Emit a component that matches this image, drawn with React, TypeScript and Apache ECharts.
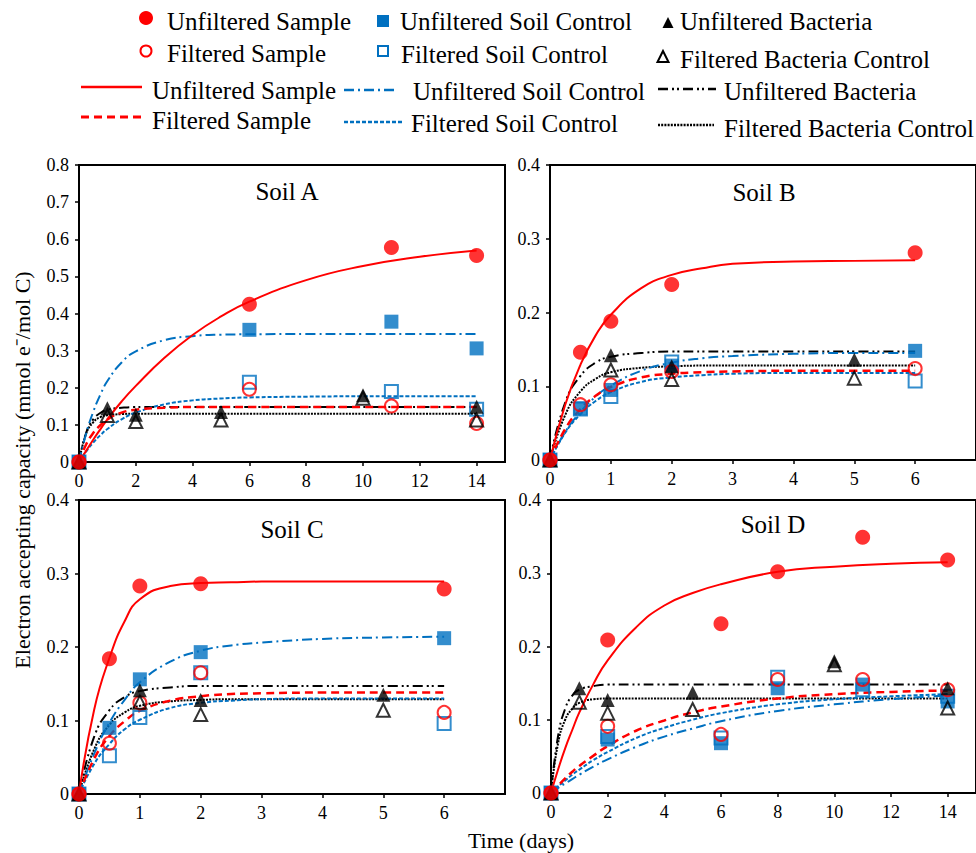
import React, { useEffect, useRef } from "react";
import * as echarts from "echarts";

const FONT = "Liberation Serif, Times New Roman, serif";
const RED = "#FF0000";
const BLUE = "#0070C0";
const BLACK = "#000000";

// ---------- texts ----------
const panelTitles = ["Soil A", "Soil B", "Soil C", "Soil D"];
const yTitle = "Electron accepting capacity (mmol e\u207B/mol C)";
const xTitle = "Time (days)";
const legendNames = [
  "Unfiltered Sample",
  "Filtered Sample",
  "Unfiltered Soil Control",
  "Filtered Soil Control",
  "Unfiltered Bacteria",
  "Filtered Bacteria Control",
];

// ---------- ticks ----------
const xTicksLong = [0, 2, 4, 6, 8, 10, 12, 14];
const xTicksShort = [0, 1, 2, 3, 4, 5, 6];
const yTicksA = [0, 0.1, 0.2, 0.3, 0.4, 0.5, 0.6, 0.7, 0.8];
const yTicksBCD = [0, 0.1, 0.2, 0.3, 0.4];

// ---------- Soil A ----------
const A_unfSample = [[0, 0], [6, 0.425], [11, 0.578], [14, 0.556]];
const A_unfSoil = [[0, 0], [6, 0.356], [11, 0.378], [14, 0.306]];
const A_filSample = [[0, 0], [6, 0.196], [11, 0.151], [14, 0.104]];
const A_filSoil = [[0, 0], [6, 0.215], [11, 0.19], [14, 0.142]];
const A_unfBact = [[0, 0], [1, 0.145], [2, 0.127], [5, 0.135], [10, 0.18], [14, 0.149]];
const A_filBact = [[0, 0], [1, 0.125], [2, 0.109], [5, 0.113], [10, 0.172], [14, 0.113]];
const A_curveX = [0, 0.25, 0.5, 0.75, 1, 1.5, 2, 3, 4, 5, 6, 8, 10, 12, 14];
const A_fitUnfSample = [0, 0.03, 0.06, 0.088, 0.115, 0.163, 0.205, 0.28, 0.342, 0.392, 0.432, 0.49, 0.528, 0.553, 0.57];
const A_fitFilSample = [0, 0.047, 0.078, 0.099, 0.115, 0.133, 0.141, 0.146, 0.148, 0.148, 0.148, 0.148, 0.148, 0.148, 0.148];
const A_fitUnfSoil = [0, 0.076, 0.135, 0.181, 0.218, 0.268, 0.298, 0.328, 0.339, 0.343, 0.344, 0.345, 0.345, 0.345, 0.345];
const A_fitFilSoil = [0, 0.028, 0.052, 0.072, 0.089, 0.115, 0.133, 0.155, 0.166, 0.171, 0.174, 0.176, 0.177, 0.177, 0.177];
const A_fitUnfBact = [0, 0.078, 0.115, 0.132, 0.141, 0.146, 0.148, 0.148, 0.148, 0.148, 0.148, 0.148, 0.148, 0.148, 0.148];
const A_fitFilBact = [0, 0.076, 0.107, 0.121, 0.126, 0.129, 0.13, 0.13, 0.13, 0.13, 0.13, 0.13, 0.13, 0.13, 0.13];

// ---------- Soil B ----------
const B_unfSample = [[0, 0], [0.5, 0.146], [1, 0.188], [2, 0.238], [6, 0.281]];
const B_unfSoil = [[0, 0], [0.5, 0.07], [1, 0.095], [2, 0.128], [6, 0.148]];
const B_filSample = [[0, 0], [0.5, 0.075], [1, 0.102], [2, 0.12], [6, 0.124]];
const B_filSoil = [[0, 0], [0.5, 0.069], [1, 0.086], [2, 0.133], [6, 0.107]];
const B_unfBact = [[0, 0], [1, 0.142], [2, 0.127], [5, 0.136]];
const B_filBact = [[0, 0], [1, 0.122], [2, 0.109], [5, 0.111]];
const B_curveX = [0, 0.25, 0.5, 0.75, 1, 1.5, 2, 2.5, 3, 4, 5, 6];
const B_fitUnfSample = [0, 0.075, 0.129, 0.169, 0.197, 0.233, 0.251, 0.26, 0.266, 0.269, 0.27, 0.271];
const B_fitFilSample = [0, 0.042, 0.069, 0.087, 0.099, 0.112, 0.117, 0.119, 0.12, 0.121, 0.121, 0.121];
const B_fitUnfSoil = [0, 0.038, 0.065, 0.086, 0.101, 0.121, 0.132, 0.138, 0.141, 0.144, 0.145, 0.145];
const B_fitFilSoil = [0, 0.037, 0.062, 0.08, 0.092, 0.106, 0.112, 0.115, 0.117, 0.118, 0.118, 0.118];
const B_fitUnfBact = [0, 0.078, 0.114, 0.132, 0.14, 0.145, 0.147, 0.147, 0.147, 0.147, 0.147, 0.147];
const B_fitFilBact = [0, 0.061, 0.093, 0.11, 0.119, 0.125, 0.127, 0.128, 0.128, 0.128, 0.128, 0.128];

// ---------- Soil C ----------
const C_unfSample = [[0, 0], [0.5, 0.184], [1, 0.283], [2, 0.286], [6, 0.279]];
const C_unfSoil = [[0, 0], [0.5, 0.09], [1, 0.156], [2, 0.193], [6, 0.212]];
const C_filSample = [[0, 0], [0.5, 0.069], [1, 0.124], [2, 0.165], [6, 0.111]];
const C_filSoil = [[0, 0], [0.5, 0.052], [1, 0.104], [2, 0.165], [6, 0.096]];
const C_unfBact = [[0, 0], [1, 0.141], [2, 0.128], [5, 0.135]];
const C_filBact = [[0, 0], [1, 0.125], [2, 0.108], [5, 0.114]];
const C_curveX = [0, 0.25, 0.5, 0.75, 1, 1.5, 2, 2.5, 3, 4, 5, 6];
const C_fitUnfSample = [0, 0.115, 0.185, 0.235, 0.265, 0.283, 0.287, 0.288, 0.289, 0.289, 0.289, 0.289];
const C_fitFilSample = [0, 0.048, 0.079, 0.099, 0.113, 0.127, 0.133, 0.136, 0.137, 0.138, 0.138, 0.138];
const C_fitUnfSoil = [0, 0.055, 0.097, 0.128, 0.152, 0.18, 0.195, 0.202, 0.206, 0.211, 0.213, 0.214];
const C_fitFilSoil = [0, 0.041, 0.068, 0.088, 0.101, 0.117, 0.124, 0.127, 0.129, 0.13, 0.13, 0.13];
const C_fitUnfBact = [0, 0.078, 0.114, 0.132, 0.14, 0.145, 0.147, 0.147, 0.147, 0.147, 0.147, 0.147];
const C_fitFilBact = [0, 0.061, 0.094, 0.111, 0.12, 0.126, 0.128, 0.129, 0.129, 0.129, 0.129, 0.129];

// ---------- Soil D ----------
const D_unfSample = [[0, 0], [2, 0.209], [6, 0.231], [8, 0.302], [11, 0.349], [14, 0.318]];
const D_unfSoil = [[0, 0], [2, 0.073], [6, 0.068], [8, 0.143], [11, 0.148], [14, 0.125]];
const D_filSample = [[0, 0], [2, 0.091], [6, 0.08], [8, 0.155], [11, 0.155], [14, 0.141]];
const D_filSoil = [[0, 0], [2, 0.077], [6, 0.075], [8, 0.158], [11, 0.141], [14, 0.132]];
const D_unfBact = [[0, 0], [1, 0.143], [2, 0.127], [5, 0.137], [10, 0.18], [14, 0.143]];
const D_filBact = [[0, 0], [1, 0.124], [2, 0.109], [5, 0.114], [10, 0.175], [14, 0.116]];
const D_curveX = [0, 0.25, 0.5, 0.75, 1, 1.5, 2, 3, 4, 5, 6, 8, 10, 12, 14];
const D_fitUnfSample = [0, 0.032, 0.061, 0.086, 0.11, 0.149, 0.181, 0.226, 0.256, 0.273, 0.285, 0.302, 0.309, 0.313, 0.315];
const D_fitFilSample = [0, 0.01, 0.02, 0.029, 0.037, 0.051, 0.064, 0.085, 0.099, 0.11, 0.118, 0.129, 0.135, 0.138, 0.14];
const D_fitUnfSoil = [0, 0.007, 0.013, 0.019, 0.025, 0.036, 0.046, 0.063, 0.077, 0.088, 0.098, 0.112, 0.121, 0.128, 0.133];
const D_fitFilSoil = [0, 0.009, 0.017, 0.025, 0.032, 0.045, 0.056, 0.075, 0.089, 0.1, 0.109, 0.121, 0.128, 0.132, 0.135];
const D_fitUnfBact = [0, 0.078, 0.115, 0.133, 0.141, 0.146, 0.148, 0.148, 0.148, 0.148, 0.148, 0.148, 0.148, 0.148, 0.148];
const D_fitFilBact = [0, 0.068, 0.1, 0.115, 0.123, 0.128, 0.129, 0.129, 0.129, 0.129, 0.129, 0.129, 0.129, 0.129, 0.129];

type Pts = number[][];
interface Panel {
  points: Record<string, Pts>;
  curveX: number[];
  fits: Record<string, number[]>;
  xMax: number;
  xInterval: number;
  xTicks: number[];
  yMax: number;
  yTicks: number[];
  grid: { left: number; top: number; width: number; height: number };
  title: { x: number; y: number };
}

const panels: Panel[] = [
  {
    points: { unfSample: A_unfSample, unfSoil: A_unfSoil, filSample: A_filSample, filSoil: A_filSoil, unfBact: A_unfBact, filBact: A_filBact },
    curveX: A_curveX,
    fits: { unfSample: A_fitUnfSample, filSample: A_fitFilSample, unfSoil: A_fitUnfSoil, filSoil: A_fitFilSoil, unfBact: A_fitUnfBact, filBact: A_fitFilBact },
    xMax: 15, xInterval: 2, xTicks: xTicksLong, yMax: 0.8, yTicks: yTicksA,
    grid: { left: 79, top: 165, width: 426, height: 297 },
    title: { x: 287, y: 191 },
  },
  {
    points: { unfSample: B_unfSample, unfSoil: B_unfSoil, filSample: B_filSample, filSoil: B_filSoil, unfBact: B_unfBact, filBact: B_filBact },
    curveX: B_curveX,
    fits: { unfSample: B_fitUnfSample, filSample: B_fitFilSample, unfSoil: B_fitUnfSoil, filSoil: B_fitFilSoil, unfBact: B_fitUnfBact, filBact: B_fitFilBact },
    xMax: 7, xInterval: 1, xTicks: xTicksShort, yMax: 0.4, yTicks: yTicksBCD,
    grid: { left: 550, top: 165, width: 428, height: 295 },
    title: { x: 764, y: 192 },
  },
  {
    points: { unfSample: C_unfSample, unfSoil: C_unfSoil, filSample: C_filSample, filSoil: C_filSoil, unfBact: C_unfBact, filBact: C_filBact },
    curveX: C_curveX,
    fits: { unfSample: C_fitUnfSample, filSample: C_fitFilSample, unfSoil: C_fitUnfSoil, filSoil: C_fitFilSoil, unfBact: C_fitUnfBact, filBact: C_fitFilBact },
    xMax: 7, xInterval: 1, xTicks: xTicksShort, yMax: 0.4, yTicks: yTicksBCD,
    grid: { left: 79, top: 500, width: 426, height: 294 },
    title: { x: 292, y: 529 },
  },
  {
    points: { unfSample: D_unfSample, unfSoil: D_unfSoil, filSample: D_filSample, filSoil: D_filSoil, unfBact: D_unfBact, filBact: D_filBact },
    curveX: D_curveX,
    fits: { unfSample: D_fitUnfSample, filSample: D_fitFilSample, unfSoil: D_fitUnfSoil, filSoil: D_fitFilSoil, unfBact: D_fitUnfBact, filBact: D_fitFilBact },
    xMax: 15, xInterval: 2, xTicks: xTicksLong, yMax: 0.4, yTicks: yTicksBCD,
    grid: { left: 551, top: 500, width: 427, height: 293 },
    title: { x: 773, y: 524 },
  },
];

const lineStyles: Record<string, any> = {
  unfSample: { color: RED, width: 2, type: "solid" },
  filSample: { color: RED, width: 2.5, type: [8, 5] },
  unfSoil: { color: BLUE, width: 2, type: [10, 4, 2, 4] },
  filSoil: { color: BLUE, width: 2, type: [4, 2] },
  unfBact: { color: BLACK, width: 2, type: [10, 4, 2, 3, 2, 4] },
  filBact: { color: BLACK, width: 2, type: [2, 1.2] },
};
const lineOrder = ["filBact", "unfBact", "filSoil", "unfSoil", "filSample", "unfSample"];

const markerStyles: Record<string, any> = {
  unfSoil: { symbol: "rect", symbolSize: 14, itemStyle: { color: BLUE } },
  filSoil: { symbol: "rect", symbolSize: 13, itemStyle: { color: "rgba(0,0,0,0)", borderColor: BLUE, borderWidth: 2 } },
  filSample: { symbol: "circle", symbolSize: 13, itemStyle: { color: "rgba(0,0,0,0)", borderColor: RED, borderWidth: 2 } },
  unfBact: { symbol: "triangle", symbolSize: 14, itemStyle: { color: BLACK } },
  filBact: { symbol: "triangle", symbolSize: 13, itemStyle: { color: "rgba(0,0,0,0)", borderColor: BLACK, borderWidth: 2 } },
  unfSample: { symbol: "circle", symbolSize: 15, itemStyle: { color: RED } },
};
const markerOrder = ["unfSoil", "filSoil", "filSample", "unfBact", "filBact", "unfSample"];

function buildOption() {
  const grids: any[] = [];
  const xAxes: any[] = [];
  const yAxes: any[] = [];
  const series: any[] = [];
  panels.forEach((p, i) => {
    grids.push({ ...p.grid, show: true, borderColor: BLACK, borderWidth: 2, backgroundColor: "transparent", containLabel: false });
    xAxes.push({
      type: "value", gridIndex: i, min: 0, max: p.xMax, interval: p.xInterval,
      axisLine: { show: true, onZero: false, lineStyle: { color: BLACK, width: 2 } },
      axisTick: { show: true, inside: false, length: 4, lineStyle: { color: BLACK, width: 1.5 }, customValues: p.xTicks },
      axisLabel: {
        show: true, color: BLACK, fontFamily: FONT, fontSize: 18, margin: 10, customValues: p.xTicks,
        formatter: (v: number) => (p.xTicks.indexOf(v) >= 0 ? String(v) : ""),
      },
      splitLine: { show: false },
    });
    yAxes.push({
      type: "value", gridIndex: i, min: 0, max: p.yMax, interval: 0.1,
      axisLine: { show: true, onZero: false, lineStyle: { color: BLACK, width: 2 } },
      axisTick: { show: true, inside: false, length: 4, lineStyle: { color: BLACK, width: 1.5 } },
      axisLabel: {
        show: true, color: BLACK, fontFamily: FONT, fontSize: 18, margin: 10,
        formatter: (v: number) => String(Math.round(v * 10) / 10),
      },
      splitLine: { show: false },
    });
    lineOrder.forEach((k) => {
      const ys = p.fits[k];
      series.push({
        type: "line", xAxisIndex: i, yAxisIndex: i, name: k + i,
        data: p.curveX.map((x, j) => [x, ys[j]]),
        showSymbol: false, symbol: "none", smooth: 0.5,
        lineStyle: lineStyles[k], z: 2, silent: true,
      });
    });
    markerOrder.forEach((k, mi) => {
      series.push({
        type: "scatter", xAxisIndex: i, yAxisIndex: i, name: "m" + k + i,
        data: p.points[k], ...markerStyles[k], z: 3 + mi, silent: true,
      });
    });
  });

  const txt = (text: string, x: number, y: number, size: number, extra: any = {}) => ({
    type: "text", x, y, silent: true, ...extra,
    style: {
      text, fill: BLACK, fontFamily: FONT, fontSize: size, font: `${size}px ${FONT}`,
      align: extra.align || "left", textAlign: extra.align || "left",
      verticalAlign: "middle", textVerticalAlign: "middle",
    },
  });

  const graphics: any[] = [];
  panels.forEach((p, i) => graphics.push(txt(panelTitles[i], p.title.x, p.title.y, 25, { align: "center" })));
  graphics.push({
    type: "text", x: 22, y: 470, rotation: Math.PI / 2, silent: true,
    style: { text: yTitle, fill: BLACK, font: `22px ${FONT}`, fontFamily: FONT, fontSize: 22, align: "center", textAlign: "center", verticalAlign: "middle", textVerticalAlign: "middle" },
  });
  graphics.push(txt(xTitle, 521, 840, 22, { align: "center" }));

  // legend markers
  const LS = 25;
  graphics.push({ type: "circle", shape: { cx: 146, cy: 18, r: 7 }, style: { fill: RED } });
  graphics.push(txt(legendNames[0], 167, 21, LS));
  graphics.push({ type: "circle", shape: { cx: 146, cy: 51, r: 5.5 }, style: { fill: "none", stroke: RED, lineWidth: 2 } });
  graphics.push(txt(legendNames[1], 167, 53, LS));
  graphics.push({ type: "rect", shape: { x: 377, y: 15, width: 12, height: 12 }, style: { fill: BLUE } });
  graphics.push(txt(legendNames[2], 400, 21, LS));
  graphics.push({ type: "rect", shape: { x: 378, y: 46, width: 10, height: 10 }, style: { fill: "none", stroke: BLUE, lineWidth: 2 } });
  graphics.push(txt(legendNames[3], 401, 54, LS));
  graphics.push({ type: "polygon", shape: { points: [[668, 17], [662.5, 28], [673.5, 28]] }, style: { fill: BLACK } });
  graphics.push(txt(legendNames[4], 680, 21, LS));
  graphics.push({ type: "polygon", shape: { points: [[663, 51], [657.5, 62], [668.5, 62]] }, style: { fill: "none", stroke: BLACK, lineWidth: 2 } });
  graphics.push(txt(legendNames[5], 680, 59, LS));

  // legend lines
  const lg = (x1: number, x2: number, y: number, k: string) => ({
    type: "line", shape: { x1, y1: y, x2, y2: y },
    style: { stroke: lineStyles[k].color, lineWidth: lineStyles[k].width + 0.5, lineDash: Array.isArray(lineStyles[k].type) ? lineStyles[k].type : null },
  });
  graphics.push(lg(81, 142, 87, "unfSample"));
  graphics.push(txt(legendNames[0], 152, 90, LS));
  graphics.push(lg(81, 142, 117, "filSample"));
  graphics.push(txt(legendNames[1], 152, 120, LS));
  graphics.push(lg(344, 396, 90, "unfSoil"));
  graphics.push(txt(legendNames[2], 413, 91, LS));
  graphics.push(lg(344, 404, 122, "filSoil"));
  graphics.push(txt(legendNames[3], 411, 123, LS));
  graphics.push(lg(658, 716, 89, "unfBact"));
  graphics.push(txt(legendNames[4], 724, 91, LS));
  graphics.push(lg(658, 714, 125, "filBact"));
  graphics.push(txt(legendNames[5], 724, 128, LS));

  return {
    animation: false,
    backgroundColor: "#ffffff",
    grid: grids,
    xAxis: xAxes,
    yAxis: yAxes,
    series,
    graphic: { elements: graphics },
  };
}

export default function App() {
  const ref = useRef<HTMLDivElement>(null);
  useEffect(() => {
    if (!ref.current) return;
    const chart = echarts.init(ref.current, undefined, { renderer: "svg" });
    chart.setOption(buildOption() as any);
    return () => chart.dispose();
  }, []);
  return (
    <div
      ref={ref}
      style={{ position: "absolute", left: 0, top: 0, width: 976, height: 853, background: "#fff" }}
    />
  );
}
